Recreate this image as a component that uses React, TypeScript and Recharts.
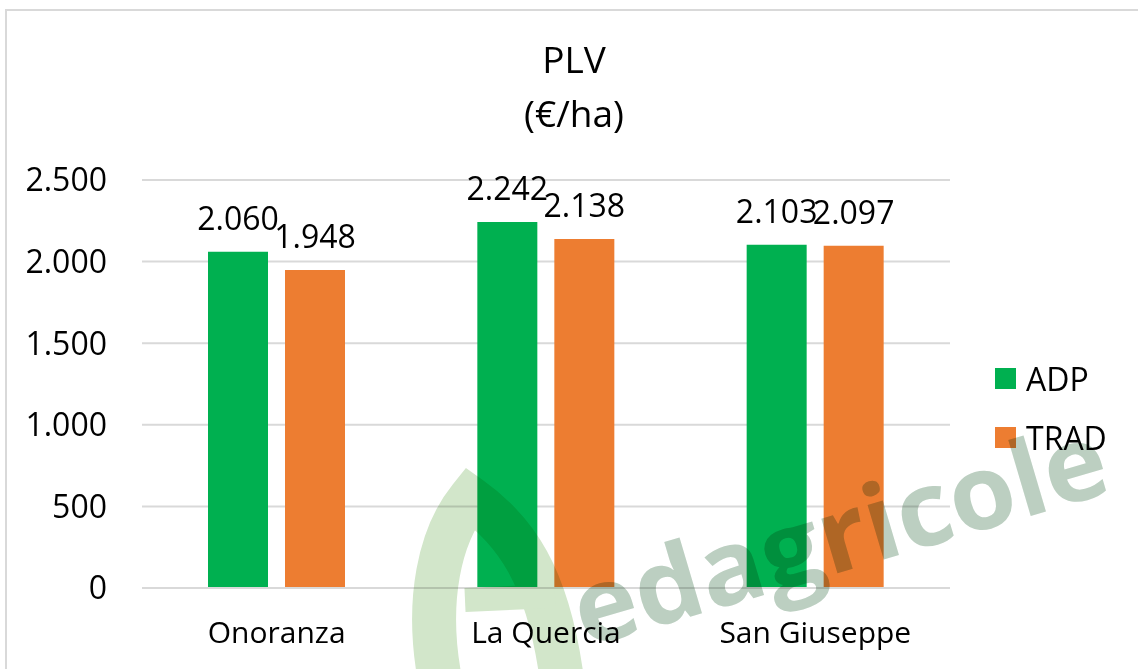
import React from 'react'
import { BarChart, Bar, XAxis, YAxis, CartesianGrid, LabelList } from 'recharts'

const aziende = ['Onoranza', 'La Quercia', 'San Giuseppe']
const adp = [2060, 2242, 2103]
const trad = [1948, 2138, 2097]
const yTicks = [0, 500, 1000, 1500, 2000, 2500]

const data = aziende.map((name, i) => ({ name, ADP: adp[i], TRAD: trad[i] }))

const GREEN = '#00B050'
const ORANGE = '#ED7D31'
const GRID = '#d9d9d9'
const FONT = '"Open Sans", sans-serif'

// thousands separator with a dot, also for 4-digit values
const fmt = (v: number) => String(v).replace(/\B(?=(\d{3})+(?!\d))/g, '.')

const series = [
  { key: 'ADP', color: GREEN },
  { key: 'TRAD', color: ORANGE },
]

function LegendBox() {
  return (
    <div style={{ position: 'absolute', left: 995, top: 349, fontFamily: FONT, fontSize: 32, color: '#000' }}>
      {series.map((s) => (
        <div key={s.key} style={{ display: 'flex', alignItems: 'center', height: 59 }}>
          <span style={{ width: 21, height: 21, background: s.color, marginRight: 10, display: 'inline-block' }} />
          <span>{s.key}</span>
        </div>
      ))}
    </div>
  )
}

export default function App() {
  return (
    <div style={{ position: 'fixed', left: 0, top: 0, width: 1138, height: 669, background: '#fff', overflow: 'hidden' }}>
      <div style={{ position: 'absolute', left: 5, top: 9, width: 1150, height: 680, border: `2px solid ${GRID}` }} />
      <div
        style={{
          position: 'absolute', left: 0, top: 32, width: 1148, textAlign: 'center',
          fontFamily: FONT, fontSize: 37, lineHeight: '54px', color: '#000',
        }}
      >
        <div>PLV</div>
        <div>(€/ha)</div>
      </div>
      <div style={{ position: 'absolute', left: 0, top: 0 }}>
        <BarChart
          width={1138}
          height={669}
          data={data}
          margin={{ top: 180, right: 188, bottom: 0, left: 0 }}
          barCategoryGap={66}
          barGap={17}
        >
          <CartesianGrid vertical={false} stroke={GRID} strokeWidth={2} />
          <XAxis
            dataKey="name"
            height={81}
            tickLine={false}
            axisLine={{ stroke: GRID, strokeWidth: 2 }}
            tickSize={0}
            tickMargin={34}
            tick={{ fill: '#000', fontSize: 30, fontFamily: FONT }}
          />
          <YAxis
            width={142}
            domain={[0, 2500]}
            ticks={yTicks}
            axisLine={false}
            tickLine={false}
            tickSize={0}
            tickMargin={35}
            tickFormatter={fmt}
            tick={{ fill: '#000', fontSize: 32, fontFamily: FONT }}
          />
          {series.map((s) => (
            <Bar key={s.key} dataKey={s.key} fill={s.color} isAnimationActive={false}>
              <LabelList dataKey={s.key} position="top" offset={22} formatter={(v: any) => fmt(Number(v))}
                style={{ fill: '#000', fontSize: 32, fontFamily: FONT }} />
            </Bar>
          ))}
        </BarChart>
      </div>
      <LegendBox />
      {/* publisher watermark */}
      <svg width={1138} height={669} style={{ position: 'absolute', left: 0, top: 0, pointerEvents: 'none' }}>
        <g style={{ mixBlendMode: 'multiply' }}>
          <path
            d="M 440 680 C 425 600, 440 535, 470 498 C 515 530, 548 575, 562 680"
            fill="none" stroke="#d2e6ca" strokeWidth={44}
          />
          <path d="M 465 600 L 555 596" stroke="#d2e6ca" strokeWidth={24} />
          <text
            x={585} y={648} transform="rotate(-16.5 585 648)"
            fontFamily={FONT} fontWeight={700} fontSize={104} fill="#bccfc1"
            textLength={552} lengthAdjust="spacingAndGlyphs"
          >
            edagricole
          </text>
        </g>
      </svg>
    </div>
  )
}
